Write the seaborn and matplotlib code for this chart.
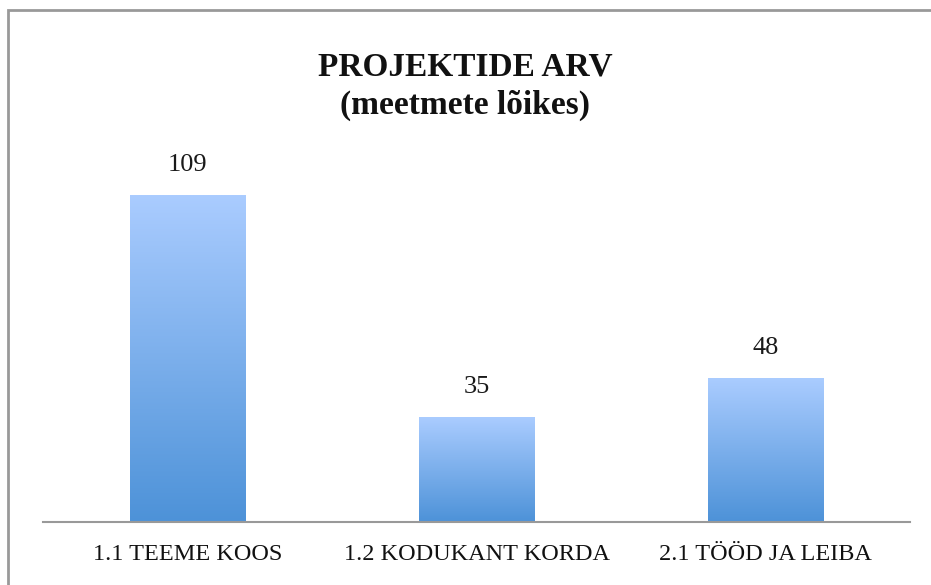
import numpy as np
import pandas as pd
import seaborn as sns
import matplotlib.pyplot as plt
from matplotlib.colors import LinearSegmentedColormap
from matplotlib.patches import Rectangle
import matplotlib.patheffects as pe

# data
categories = ['1.1 TEEME KOOS', '1.2 KODUKANT KORDA', '2.1 TÖÖD JA LEIBA']
counts = [109, 35, 48]
title = 'PROJEKTIDE ARV\n(meetmete lõikes)'

df = pd.DataFrame({'meede': categories, 'arv': counts})

sns.set_theme(style='white')
plt.rcParams['font.family'] = ['Liberation Serif', 'DejaVu Serif']

fig = plt.figure(figsize=(9.31, 5.85), dpi=100)
ax = fig.add_axes([43 / 931, 63 / 585, 867 / 931, 372 / 585])

sns.barplot(data=df, x='meede', y='arv', ax=ax, width=0.4, color='#7fb0ee')
ax.set_ylim(0, 124)

# vertical gradient on each bar, light on top, darker at the base
cmap = LinearSegmentedColormap.from_list('grad', ['#4d92d8', '#aaccff'])
grad = np.linspace(0, 1, 256).reshape(-1, 1)
for bar in ax.patches:
    x0, y0 = bar.get_x(), bar.get_y()
    w, h = bar.get_width(), bar.get_height()
    bar.set_facecolor('none')
    bar.set_edgecolor('none')
    shadow = Rectangle((x0, y0), w, h, facecolor='white', edgecolor='none', zorder=1,
                       path_effects=[pe.SimplePatchShadow(offset=(0, -1), shadow_rgbFace='#888888', alpha=0.35)])
    ax.add_patch(shadow)
    im = ax.imshow(grad, cmap=cmap, origin='lower', aspect='auto',
                   extent=[x0, x0 + w, y0, y0 + h], zorder=2)
    im.set_clip_path(bar)

ax.set_xlim(-0.5, 2.5)
for i, v in enumerate(counts):
    ax.text(i, v + 10, str(v), ha='center', va='center', fontsize=19, color='#1a1a1a')

ax.set_xlabel('')
ax.set_ylabel('')
ax.set_yticks([])
ax.tick_params(axis='x', length=0, labelsize=17.5, pad=16, colors='#111111')
for s in ['top', 'right', 'left']:
    ax.spines[s].set_visible(False)
ax.spines['bottom'].set_color('#999999')
ax.spines['bottom'].set_linewidth(1.5)

fig.text(0.5, 0.852, title, ha='center', va='center', fontsize=24,
         fontweight='bold', linespacing=1.3, color='#111111')

# grey frame of the chart area
fig.patches.append(Rectangle((8 / 931, -0.01), 1.0, 1 - 10 / 585 + 0.01, transform=fig.transFigure,
                             fill=False, edgecolor='#999999', linewidth=2))

fig.savefig('out.png', dpi=100)
